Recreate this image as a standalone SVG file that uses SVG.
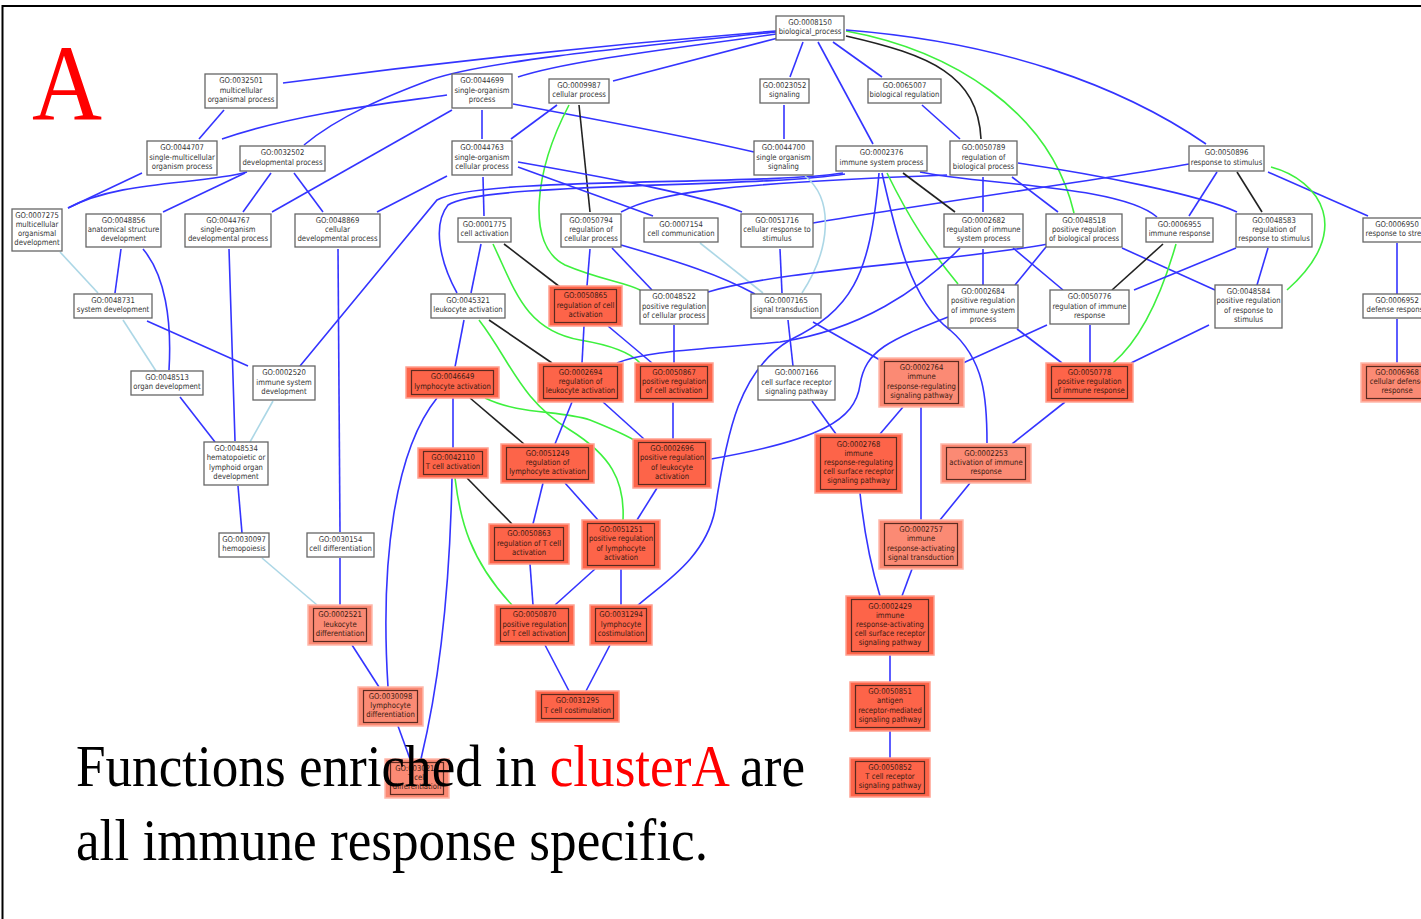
<svg xmlns="http://www.w3.org/2000/svg" width="1421" height="919" viewBox="0 0 1421 919">
<style>
.e{fill:none;stroke-width:1.6}
.b{stroke:#3434ff}
.k{stroke:#222}
.g{stroke:#3ef03e}
.c{stroke:#acd7e6}
.w{fill:#fff;stroke:#666;stroke-width:1.3}
.r{fill:#fd6449;stroke:#ffa090;stroke-width:1.5}
.l{fill:#fb8a74;stroke:#ffb8aa;stroke-width:1.5}
.i{fill:none;stroke:#5a2a20;stroke-width:1.2}
.t{font-family:"DejaVu Sans",sans-serif;font-size:8px;fill:#333;text-anchor:middle}
.tr{fill:#3a1a12}
.big{font-family:"Liberation Serif",serif;font-size:59px;fill:#000}
</style>
<rect width="1421" height="919" fill="#fff"/>
<rect x="2.5" y="6" width="1440" height="930" fill="none" stroke="#000" stroke-width="2"/>

<!-- connectors -->
<g id="edges" class="e">
<path class="b" d="M776,31 C600,45 420,65 283,83"/>
<path class="b" d="M776,34 C680,48 570,60 518,77"/>
<path class="b" d="M776,32 C620,48 480,62 430,80 C390,95 340,115 304,145"/>
<path class="b" d="M778,38 L613,81"/>
<path class="b" d="M803,42 L790,77"/>
<path class="b" d="M818,42 L873,144"/>
<path class="b" d="M833,42 L882,77"/>
<path class="k" d="M846,36 C930,55 978,75 981,139"/>
<path class="g" d="M846,31 C950,50 1050,110 1074,213"/>
<path class="b" d="M846,30 C1000,42 1120,85 1206,144"/>
<path class="b" d="M224,110 L199,139"/>
<path class="b" d="M447,95 C400,102 300,112 222,139"/>
<path class="b" d="M452,110 L272,212"/>
<path class="b" d="M482,110 L482,139"/>
<path class="b" d="M513,104 C600,120 680,135 754,152"/>
<path class="b" d="M557,105 L511,139"/>
<path class="k" d="M579,105 L590,212"/>
<path class="g" d="M569,105 C535,170 525,245 565,265 C600,280 625,282 640,290"/>
<path class="b" d="M784,105 L784,139"/>
<path class="b" d="M922,105 L960,139"/>
<path class="b" d="M142,173 L68,208"/>
<path class="b" d="M247,172 C200,185 120,180 68,208"/>
<path class="b" d="M245,173 L163,212"/>
<path class="b" d="M271,173 L243,212"/>
<path class="b" d="M294,173 L323,212"/>
<path class="b" d="M483,177 L484,216"/>
<path class="b" d="M447,176 L377,212"/>
<path class="b" d="M518,167 L653,216"/>
<path class="b" d="M518,162 C620,180 700,195 742,212"/>
<path class="b" d="M621,212 C660,192 720,184 947,175"/>
<path class="b" d="M843,173 C760,186 480,176 437,200 L300,366"/>
<path class="b" d="M845,174 C760,188 480,182 448,205 C432,225 440,262 457,293"/>
<path class="b" d="M1189,164 C1100,180 950,200 813,223"/>
<path class="k" d="M903,173 L955,212"/>
<path class="b" d="M920,172 C980,185 1120,185 1157,217"/>
<path class="g" d="M887,173 C910,220 930,250 958,284"/>
<path class="b" d="M882,173 C895,230 910,300 950,330 C985,360 987,400 987,443"/>
<path class="b" d="M879,173 C870,280 850,310 790,340 C740,370 727,430 715,510 C705,560 660,585 637,606"/>
<path class="b" d="M983,177 L983,212"/>
<path class="b" d="M1018,163 C1100,175 1200,195 1237,212"/>
<path class="b" d="M1012,177 L1058,212"/>
<path class="b" d="M1217,172 L1189,216"/>
<path class="k" d="M1237,172 L1262,212"/>
<path class="b" d="M1268,172 L1368,216"/>
<path class="g" d="M1271,167 C1320,180 1355,230 1287,290"/>
<path class="c" d="M60,252 L98,293"/>
<path class="b" d="M121,249 L115,293"/>
<path class="b" d="M143,249 C165,275 172,320 169,370"/>
<path class="b" d="M229,249 L235,441"/>
<path class="b" d="M338,249 L340,532"/>
<path class="b" d="M481,244 L471,293"/>
<path class="k" d="M504,244 L560,287"/>
<path class="g" d="M493,244 C515,290 525,330 580,340 C610,345 630,352 640,363"/>
<path class="b" d="M590,249 L587,286"/>
<path class="b" d="M612,248 L652,290"/>
<path class="b" d="M621,245 C680,262 720,275 755,294"/>
<path class="c" d="M700,243 L763,293"/>
<path class="c" d="M805,176 C835,200 830,250 802,293"/>
<path class="b" d="M780,249 L782,293"/>
<path class="b" d="M960,248 C920,290 860,330 780,342 C700,350 650,350 617,363"/>
<path class="b" d="M983,249 L983,285"/>
<path class="b" d="M1013,248 L1063,290"/>
<path class="b" d="M1048,244 C950,262 780,270 708,292"/>
<path class="b" d="M1122,248 L1215,290"/>
<path class="b" d="M1046,247 L1015,285"/>
<path class="k" d="M1163,244 L1112,290"/>
<path class="g" d="M1176,244 C1160,300 1140,340 1113,363"/>
<path class="b" d="M1236,248 L1134,290"/>
<path class="b" d="M1268,248 L1257,285"/>
<path class="b" d="M1397,243 L1397,294"/>
<path class="c" d="M123,320 L156,371"/>
<path class="b" d="M147,321 L248,366"/>
<path class="b" d="M464,320 L455,367"/>
<path class="k" d="M489,320 L552,363"/>
<path class="g" d="M479,320 C510,360 520,400 570,430 C610,455 625,480 623,520"/>
<path class="b" d="M584,326 L582,363"/>
<path class="b" d="M608,326 L652,363"/>
<path class="b" d="M674,325 L674,363"/>
<path class="b" d="M813,322 L880,360"/>
<path class="b" d="M788,320 L793,366"/>
<path class="b" d="M948,317 C890,340 865,350 860,385 C855,420 820,440 711,459"/>
<path class="b" d="M1017,329 L1062,363"/>
<path class="b" d="M1090,325 L1090,363"/>
<path class="b" d="M1047,325 L963,363"/>
<path class="b" d="M1209,325 L1131,363"/>
<path class="b" d="M1397,319 L1397,363"/>
<path class="b" d="M180,397 L215,442"/>
<path class="c" d="M273,401 L250,442"/>
<path class="b" d="M437,398 C395,450 380,560 388,687"/>
<path class="b" d="M453,398 L453,448"/>
<path class="k" d="M470,398 L524,444"/>
<path class="g" d="M485,398 C520,415 560,410 590,420 C610,428 620,432 634,440"/>
<path class="b" d="M572,402 L555,444"/>
<path class="b" d="M603,402 L644,439"/>
<path class="b" d="M673,402 L673,439"/>
<path class="b" d="M903,407 L880,434"/>
<path class="b" d="M921,407 L921,520"/>
<path class="b" d="M812,401 L836,434"/>
<path class="b" d="M1065,402 L1012,444"/>
<path class="b" d="M238,486 L242,533"/>
<path class="b" d="M452,478 C450,580 440,680 421,759"/>
<path class="k" d="M467,478 L512,524"/>
<path class="g" d="M455,478 C460,520 470,560 512,605"/>
<path class="b" d="M543,483 L533,524"/>
<path class="b" d="M565,483 L598,520"/>
<path class="b" d="M657,488 L637,520"/>
<path class="b" d="M860,493 C865,540 872,570 880,596"/>
<path class="b" d="M970,483 L940,520"/>
<path class="c" d="M262,558 L317,605"/>
<path class="b" d="M340,558 L340,605"/>
<path class="b" d="M530,564 L533,605"/>
<path class="b" d="M595,569 L555,605"/>
<path class="b" d="M621,569 L621,605"/>
<path class="b" d="M912,569 L902,596"/>
<path class="b" d="M352,645 L379,687"/>
<path class="b" d="M545,645 L569,691"/>
<path class="b" d="M610,645 L586,691"/>
<path class="b" d="M890,655 L890,682"/>
<path class="b" d="M398,726 L410,759"/>
<path class="b" d="M890,731 L890,758"/>
</g>

<!-- plain GO term nodes -->
<g id="go0008150"><rect class="w" x="776" y="16" width="68" height="24"/><text class="t" transform="translate(810,28) scale(.86,1)"><tspan x="0" y="-3.05">GO:0008150</tspan><tspan x="0" dy="9.1">biological_process</tspan></text></g>
<g id="go0032501"><rect class="w" x="205" y="74" width="72" height="34"/><text class="t" transform="translate(241,91) scale(.86,1)"><tspan x="0" y="-7.6">GO:0032501</tspan><tspan x="0" dy="9.1">multicellular</tspan><tspan x="0" dy="9.1">organismal process</tspan></text></g>
<g id="go0044699"><rect class="w" x="452" y="74" width="60" height="34"/><text class="t" transform="translate(482,91) scale(.86,1)"><tspan x="0" y="-7.6">GO:0044699</tspan><tspan x="0" dy="9.1">single-organism</tspan><tspan x="0" dy="9.1">process</tspan></text></g>
<g id="go0009987"><rect class="w" x="549" y="79" width="60" height="24"/><text class="t" transform="translate(579,91) scale(.86,1)"><tspan x="0" y="-3.05">GO:0009987</tspan><tspan x="0" dy="9.1">cellular process</tspan></text></g>
<g id="go0023052"><rect class="w" x="760" y="79" width="49" height="24"/><text class="t" transform="translate(784.5,91) scale(.86,1)"><tspan x="0" y="-3.05">GO:0023052</tspan><tspan x="0" dy="9.1">signaling</tspan></text></g>
<g id="go0065007"><rect class="w" x="868" y="79" width="73" height="24"/><text class="t" transform="translate(904.5,91) scale(.86,1)"><tspan x="0" y="-3.05">GO:0065007</tspan><tspan x="0" dy="9.1">biological regulation</tspan></text></g>
<g id="go0044707"><rect class="w" x="147" y="141" width="70" height="34"/><text class="t" transform="translate(182,158) scale(.86,1)"><tspan x="0" y="-7.6">GO:0044707</tspan><tspan x="0" dy="9.1">single-multicellular</tspan><tspan x="0" dy="9.1">organism process</tspan></text></g>
<g id="go0032502"><rect class="w" x="240" y="146" width="85" height="25"/><text class="t" transform="translate(282.5,158.5) scale(.86,1)"><tspan x="0" y="-3.05">GO:0032502</tspan><tspan x="0" dy="9.1">developmental process</tspan></text></g>
<g id="go0044763"><rect class="w" x="452" y="141" width="60" height="34"/><text class="t" transform="translate(482,158) scale(.86,1)"><tspan x="0" y="-7.6">GO:0044763</tspan><tspan x="0" dy="9.1">single-organism</tspan><tspan x="0" dy="9.1">cellular process</tspan></text></g>
<g id="go0044700"><rect class="w" x="754" y="141" width="59" height="34"/><text class="t" transform="translate(783.5,158) scale(.86,1)"><tspan x="0" y="-7.6">GO:0044700</tspan><tspan x="0" dy="9.1">single organism</tspan><tspan x="0" dy="9.1">signaling</tspan></text></g>
<g id="go0002376"><rect class="w" x="836" y="146" width="91" height="25"/><text class="t" transform="translate(881.5,158.5) scale(.86,1)"><tspan x="0" y="-3.05">GO:0002376</tspan><tspan x="0" dy="9.1">immune system process</tspan></text></g>
<g id="go0050789"><rect class="w" x="950" y="141" width="67" height="34"/><text class="t" transform="translate(983.5,158) scale(.86,1)"><tspan x="0" y="-7.6">GO:0050789</tspan><tspan x="0" dy="9.1">regulation of</tspan><tspan x="0" dy="9.1">biological process</tspan></text></g>
<g id="go0050896"><rect class="w" x="1189" y="146" width="75" height="25"/><text class="t" transform="translate(1226.5,158.5) scale(.86,1)"><tspan x="0" y="-3.05">GO:0050896</tspan><tspan x="0" dy="9.1">response to stimulus</tspan></text></g>
<g id="go0007275"><rect class="w" x="12" y="209" width="50" height="42"/><text class="t" transform="translate(37,230) scale(.86,1)"><tspan x="0" y="-12.15">GO:0007275</tspan><tspan x="0" dy="9.1">multicellular</tspan><tspan x="0" dy="9.1">organismal</tspan><tspan x="0" dy="9.1">development</tspan></text></g>
<g id="go0048856"><rect class="w" x="86" y="214" width="75" height="33"/><text class="t" transform="translate(123.5,230.5) scale(.86,1)"><tspan x="0" y="-7.6">GO:0048856</tspan><tspan x="0" dy="9.1">anatomical structure</tspan><tspan x="0" dy="9.1">development</tspan></text></g>
<g id="go0044767"><rect class="w" x="185" y="214" width="86" height="33"/><text class="t" transform="translate(228,230.5) scale(.86,1)"><tspan x="0" y="-7.6">GO:0044767</tspan><tspan x="0" dy="9.1">single-organism</tspan><tspan x="0" dy="9.1">developmental process</tspan></text></g>
<g id="go0048869"><rect class="w" x="295" y="214" width="85" height="33"/><text class="t" transform="translate(337.5,230.5) scale(.86,1)"><tspan x="0" y="-7.6">GO:0048869</tspan><tspan x="0" dy="9.1">cellular</tspan><tspan x="0" dy="9.1">developmental process</tspan></text></g>
<g id="go0001775"><rect class="w" x="458" y="218" width="53" height="24"/><text class="t" transform="translate(484.5,230) scale(.86,1)"><tspan x="0" y="-3.05">GO:0001775</tspan><tspan x="0" dy="9.1">cell activation</tspan></text></g>
<g id="go0050794"><rect class="w" x="561" y="214" width="60" height="33"/><text class="t" transform="translate(591,230.5) scale(.86,1)"><tspan x="0" y="-7.6">GO:0050794</tspan><tspan x="0" dy="9.1">regulation of</tspan><tspan x="0" dy="9.1">cellular process</tspan></text></g>
<g id="go0007154"><rect class="w" x="644" y="218" width="74" height="24"/><text class="t" transform="translate(681,230) scale(.86,1)"><tspan x="0" y="-3.05">GO:0007154</tspan><tspan x="0" dy="9.1">cell communication</tspan></text></g>
<g id="go0051716"><rect class="w" x="741" y="214" width="72" height="33"/><text class="t" transform="translate(777,230.5) scale(.86,1)"><tspan x="0" y="-7.6">GO:0051716</tspan><tspan x="0" dy="9.1">cellular response to</tspan><tspan x="0" dy="9.1">stimulus</tspan></text></g>
<g id="go0002682"><rect class="w" x="944" y="214" width="79" height="33"/><text class="t" transform="translate(983.5,230.5) scale(.86,1)"><tspan x="0" y="-7.6">GO:0002682</tspan><tspan x="0" dy="9.1">regulation of immune</tspan><tspan x="0" dy="9.1">system process</tspan></text></g>
<g id="go0048518"><rect class="w" x="1046" y="214" width="76" height="33"/><text class="t" transform="translate(1084,230.5) scale(.86,1)"><tspan x="0" y="-7.6">GO:0048518</tspan><tspan x="0" dy="9.1">positive regulation</tspan><tspan x="0" dy="9.1">of biological process</tspan></text></g>
<g id="go0006955"><rect class="w" x="1146" y="218" width="67" height="24"/><text class="t" transform="translate(1179.5,230) scale(.86,1)"><tspan x="0" y="-3.05">GO:0006955</tspan><tspan x="0" dy="9.1">immune response</tspan></text></g>
<g id="go0048583"><rect class="w" x="1236" y="214" width="76" height="33"/><text class="t" transform="translate(1274,230.5) scale(.86,1)"><tspan x="0" y="-7.6">GO:0048583</tspan><tspan x="0" dy="9.1">regulation of</tspan><tspan x="0" dy="9.1">response to stimulus</tspan></text></g>
<g id="go0006950"><rect class="w" x="1363" y="218" width="68" height="24"/><text class="t" transform="translate(1397,230) scale(.86,1)"><tspan x="0" y="-3.05">GO:0006950</tspan><tspan x="0" dy="9.1">response to stress</tspan></text></g>
<g id="go0048731"><rect class="w" x="74" y="294" width="78" height="24"/><text class="t" transform="translate(113,306) scale(.86,1)"><tspan x="0" y="-3.05">GO:0048731</tspan><tspan x="0" dy="9.1">system development</tspan></text></g>
<g id="go0045321"><rect class="w" x="431" y="294" width="74" height="24"/><text class="t" transform="translate(468,306) scale(.86,1)"><tspan x="0" y="-3.05">GO:0045321</tspan><tspan x="0" dy="9.1">leukocyte activation</tspan></text></g>
<g id="go0048522"><rect class="w" x="640" y="290" width="68" height="34"/><text class="t" transform="translate(674,307) scale(.86,1)"><tspan x="0" y="-7.6">GO:0048522</tspan><tspan x="0" dy="9.1">positive regulation</tspan><tspan x="0" dy="9.1">of cellular process</tspan></text></g>
<g id="go0007165"><rect class="w" x="751" y="294" width="70" height="24"/><text class="t" transform="translate(786,306) scale(.86,1)"><tspan x="0" y="-3.05">GO:0007165</tspan><tspan x="0" dy="9.1">signal transduction</tspan></text></g>
<g id="go0002684"><rect class="w" x="948" y="285" width="70" height="43"/><text class="t" transform="translate(983,306.5) scale(.86,1)"><tspan x="0" y="-12.15">GO:0002684</tspan><tspan x="0" dy="9.1">positive regulation</tspan><tspan x="0" dy="9.1">of immune system</tspan><tspan x="0" dy="9.1">process</tspan></text></g>
<g id="go0050776"><rect class="w" x="1050" y="290" width="79" height="34"/><text class="t" transform="translate(1089.5,307) scale(.86,1)"><tspan x="0" y="-7.6">GO:0050776</tspan><tspan x="0" dy="9.1">regulation of immune</tspan><tspan x="0" dy="9.1">response</tspan></text></g>
<g id="go0048584"><rect class="w" x="1215" y="285" width="67" height="43"/><text class="t" transform="translate(1248.5,306.5) scale(.86,1)"><tspan x="0" y="-12.15">GO:0048584</tspan><tspan x="0" dy="9.1">positive regulation</tspan><tspan x="0" dy="9.1">of response to</tspan><tspan x="0" dy="9.1">stimulus</tspan></text></g>
<g id="go0006952"><rect class="w" x="1363" y="294" width="68" height="24"/><text class="t" transform="translate(1397,306) scale(.86,1)"><tspan x="0" y="-3.05">GO:0006952</tspan><tspan x="0" dy="9.1">defense response</tspan></text></g>
<g id="go0048513"><rect class="w" x="131" y="371" width="72" height="24"/><text class="t" transform="translate(167,383) scale(.86,1)"><tspan x="0" y="-3.05">GO:0048513</tspan><tspan x="0" dy="9.1">organ development</tspan></text></g>
<g id="go0002520"><rect class="w" x="253" y="366" width="62" height="34"/><text class="t" transform="translate(284,383) scale(.86,1)"><tspan x="0" y="-7.6">GO:0002520</tspan><tspan x="0" dy="9.1">immune system</tspan><tspan x="0" dy="9.1">development</tspan></text></g>
<g id="go0007166"><rect class="w" x="758" y="366" width="77" height="34"/><text class="t" transform="translate(796.5,383) scale(.86,1)"><tspan x="0" y="-7.6">GO:0007166</tspan><tspan x="0" dy="9.1">cell surface receptor</tspan><tspan x="0" dy="9.1">signaling pathway</tspan></text></g>
<g id="go0048534"><rect class="w" x="204" y="442" width="64" height="43"/><text class="t" transform="translate(236,463.5) scale(.86,1)"><tspan x="0" y="-12.15">GO:0048534</tspan><tspan x="0" dy="9.1">hematopoietic or</tspan><tspan x="0" dy="9.1">lymphoid organ</tspan><tspan x="0" dy="9.1">development</tspan></text></g>
<g id="go0030097"><rect class="w" x="219" y="533" width="50" height="24"/><text class="t" transform="translate(244,545) scale(.86,1)"><tspan x="0" y="-3.05">GO:0030097</tspan><tspan x="0" dy="9.1">hemopoiesis</tspan></text></g>
<g id="go0030154"><rect class="w" x="307" y="533" width="67" height="24"/><text class="t" transform="translate(340.5,545) scale(.86,1)"><tspan x="0" y="-3.05">GO:0030154</tspan><tspan x="0" dy="9.1">cell differentiation</tspan></text></g>

<!-- enriched terms, strong -->
<g id="go0050865"><rect class="r" x="549" y="286" width="73" height="40"/><rect class="i" x="554.5" y="289.5" width="62" height="33"/><text class="t tr" transform="translate(585.5,306) scale(.86,1)"><tspan x="0" y="-7.6">GO:0050865</tspan><tspan x="0" dy="9.1">regulation of cell</tspan><tspan x="0" dy="9.1">activation</tspan></text></g>
<g id="go0046649"><rect class="r" x="406" y="367" width="93" height="31"/><rect class="i" x="411.5" y="370.5" width="82" height="24"/><text class="t tr" transform="translate(452.5,382.5) scale(.86,1)"><tspan x="0" y="-3.05">GO:0046649</tspan><tspan x="0" dy="9.1">lymphocyte activation</tspan></text></g>
<g id="go0002694"><rect class="r" x="538" y="363" width="85" height="39"/><rect class="i" x="543.5" y="366.5" width="74" height="32"/><text class="t tr" transform="translate(580.5,382.5) scale(.86,1)"><tspan x="0" y="-7.6">GO:0002694</tspan><tspan x="0" dy="9.1">regulation of</tspan><tspan x="0" dy="9.1">leukocyte activation</tspan></text></g>
<g id="go0050867"><rect class="r" x="635" y="363" width="78" height="39"/><rect class="i" x="640.5" y="366.5" width="67" height="32"/><text class="t tr" transform="translate(674,382.5) scale(.86,1)"><tspan x="0" y="-7.6">GO:0050867</tspan><tspan x="0" dy="9.1">positive regulation</tspan><tspan x="0" dy="9.1">of cell activation</tspan></text></g>
<g id="go0050778"><rect class="r" x="1046" y="363" width="87" height="39"/><rect class="i" x="1051.5" y="366.5" width="76" height="32"/><text class="t tr" transform="translate(1089.5,382.5) scale(.86,1)"><tspan x="0" y="-7.6">GO:0050778</tspan><tspan x="0" dy="9.1">positive regulation</tspan><tspan x="0" dy="9.1">of immune response</tspan></text></g>
<g id="go0042110"><rect class="r" x="418" y="448" width="70" height="30"/><rect class="i" x="423.5" y="451.5" width="59" height="23"/><text class="t tr" transform="translate(453,463) scale(.86,1)"><tspan x="0" y="-3.05">GO:0042110</tspan><tspan x="0" dy="9.1">T cell activation</tspan></text></g>
<g id="go0051249"><rect class="r" x="501" y="444" width="93" height="39"/><rect class="i" x="506.5" y="447.5" width="82" height="32"/><text class="t tr" transform="translate(547.5,463.5) scale(.86,1)"><tspan x="0" y="-7.6">GO:0051249</tspan><tspan x="0" dy="9.1">regulation of</tspan><tspan x="0" dy="9.1">lymphocyte activation</tspan></text></g>
<g id="go0002696"><rect class="r" x="633" y="439" width="78" height="49"/><rect class="i" x="638.5" y="442.5" width="67" height="42"/><text class="t tr" transform="translate(672,463.5) scale(.86,1)"><tspan x="0" y="-12.15">GO:0002696</tspan><tspan x="0" dy="9.1">positive regulation</tspan><tspan x="0" dy="9.1">of leukocyte</tspan><tspan x="0" dy="9.1">activation</tspan></text></g>
<g id="go0002768"><rect class="r" x="815" y="434" width="87" height="59"/><rect class="i" x="820.5" y="437.5" width="76" height="52"/><text class="t tr" transform="translate(858.5,463.5) scale(.86,1)"><tspan x="0" y="-16.7">GO:0002768</tspan><tspan x="0" dy="9.1">immune</tspan><tspan x="0" dy="9.1">response-regulating</tspan><tspan x="0" dy="9.1">cell surface receptor</tspan><tspan x="0" dy="9.1">signaling pathway</tspan></text></g>
<g id="go0050863"><rect class="r" x="489" y="524" width="80" height="40"/><rect class="i" x="494.5" y="527.5" width="69" height="33"/><text class="t tr" transform="translate(529,544) scale(.86,1)"><tspan x="0" y="-7.6">GO:0050863</tspan><tspan x="0" dy="9.1">regulation of T cell</tspan><tspan x="0" dy="9.1">activation</tspan></text></g>
<g id="go0051251"><rect class="r" x="582" y="520" width="78" height="49"/><rect class="i" x="587.5" y="523.5" width="67" height="42"/><text class="t tr" transform="translate(621,544.5) scale(.86,1)"><tspan x="0" y="-12.15">GO:0051251</tspan><tspan x="0" dy="9.1">positive regulation</tspan><tspan x="0" dy="9.1">of lymphocyte</tspan><tspan x="0" dy="9.1">activation</tspan></text></g>
<g id="go0050870"><rect class="r" x="495" y="605" width="79" height="40"/><rect class="i" x="500.5" y="608.5" width="68" height="33"/><text class="t tr" transform="translate(534.5,625) scale(.86,1)"><tspan x="0" y="-7.6">GO:0050870</tspan><tspan x="0" dy="9.1">positive regulation</tspan><tspan x="0" dy="9.1">of T cell activation</tspan></text></g>
<g id="go0031294"><rect class="r" x="590" y="605" width="62" height="40"/><rect class="i" x="595.5" y="608.5" width="51" height="33"/><text class="t tr" transform="translate(621,625) scale(.86,1)"><tspan x="0" y="-7.6">GO:0031294</tspan><tspan x="0" dy="9.1">lymphocyte</tspan><tspan x="0" dy="9.1">costimulation</tspan></text></g>
<g id="go0002429"><rect class="r" x="846" y="596" width="88" height="59"/><rect class="i" x="851.5" y="599.5" width="77" height="52"/><text class="t tr" transform="translate(890,625.5) scale(.86,1)"><tspan x="0" y="-16.7">GO:0002429</tspan><tspan x="0" dy="9.1">immune</tspan><tspan x="0" dy="9.1">response-activating</tspan><tspan x="0" dy="9.1">cell surface receptor</tspan><tspan x="0" dy="9.1">signaling pathway</tspan></text></g>
<g id="go0031295"><rect class="r" x="536" y="691" width="83" height="31"/><rect class="i" x="541.5" y="694.5" width="72" height="24"/><text class="t tr" transform="translate(577.5,706.5) scale(.86,1)"><tspan x="0" y="-3.05">GO:0031295</tspan><tspan x="0" dy="9.1">T cell costimulation</tspan></text></g>
<g id="go0050851"><rect class="r" x="850" y="682" width="80" height="49"/><rect class="i" x="855.5" y="685.5" width="69" height="42"/><text class="t tr" transform="translate(890,706.5) scale(.86,1)"><tspan x="0" y="-12.15">GO:0050851</tspan><tspan x="0" dy="9.1">antigen</tspan><tspan x="0" dy="9.1">receptor-mediated</tspan><tspan x="0" dy="9.1">signaling pathway</tspan></text></g>
<g id="go0050852"><rect class="r" x="850" y="758" width="80" height="39"/><rect class="i" x="855.5" y="761.5" width="69" height="32"/><text class="t tr" transform="translate(890,777.5) scale(.86,1)"><tspan x="0" y="-7.6">GO:0050852</tspan><tspan x="0" dy="9.1">T cell receptor</tspan><tspan x="0" dy="9.1">signaling pathway</tspan></text></g>

<!-- enriched terms, weaker -->
<g id="go0002764"><rect class="l" x="879" y="358" width="85" height="49"/><rect class="i" x="884.5" y="361.5" width="74" height="42"/><text class="t tr" transform="translate(921.5,382.5) scale(.86,1)"><tspan x="0" y="-12.15">GO:0002764</tspan><tspan x="0" dy="9.1">immune</tspan><tspan x="0" dy="9.1">response-regulating</tspan><tspan x="0" dy="9.1">signaling pathway</tspan></text></g>
<g id="go0006968"><rect class="l" x="1361" y="363" width="72" height="39"/><rect class="i" x="1366.5" y="366.5" width="61" height="32"/><text class="t tr" transform="translate(1397,382.5) scale(.86,1)"><tspan x="0" y="-7.6">GO:0006968</tspan><tspan x="0" dy="9.1">cellular defense</tspan><tspan x="0" dy="9.1">response</tspan></text></g>
<g id="go0002253"><rect class="l" x="941" y="444" width="90" height="39"/><rect class="i" x="946.5" y="447.5" width="79" height="32"/><text class="t tr" transform="translate(986,463.5) scale(.86,1)"><tspan x="0" y="-7.6">GO:0002253</tspan><tspan x="0" dy="9.1">activation of immune</tspan><tspan x="0" dy="9.1">response</tspan></text></g>
<g id="go0002757"><rect class="l" x="879" y="520" width="84" height="49"/><rect class="i" x="884.5" y="523.5" width="73" height="42"/><text class="t tr" transform="translate(921,544.5) scale(.86,1)"><tspan x="0" y="-12.15">GO:0002757</tspan><tspan x="0" dy="9.1">immune</tspan><tspan x="0" dy="9.1">response-activating</tspan><tspan x="0" dy="9.1">signal transduction</tspan></text></g>
<g id="go0002521"><rect class="l" x="308" y="605" width="64" height="40"/><rect class="i" x="313.5" y="608.5" width="53" height="33"/><text class="t tr" transform="translate(340,625) scale(.86,1)"><tspan x="0" y="-7.6">GO:0002521</tspan><tspan x="0" dy="9.1">leukocyte</tspan><tspan x="0" dy="9.1">differentiation</tspan></text></g>
<g id="go0030098"><rect class="l" x="358" y="687" width="65" height="39"/><rect class="i" x="363.5" y="690.5" width="54" height="32"/><text class="t tr" transform="translate(390.5,706.5) scale(.86,1)"><tspan x="0" y="-7.6">GO:0030098</tspan><tspan x="0" dy="9.1">lymphocyte</tspan><tspan x="0" dy="9.1">differentiation</tspan></text></g>
<g id="go0030217"><rect class="l" x="385" y="759" width="64" height="39"/><rect class="i" x="390.5" y="762.5" width="53" height="32"/><text class="t tr" transform="translate(417,778.5) scale(.86,1)"><tspan x="0" y="-7.6">GO:0030217</tspan><tspan x="0" dy="9.1">T cell</tspan><tspan x="0" dy="9.1">differentiation</tspan></text></g>

<!-- panel letter and caption -->
<text x="32" y="120" font-family="'Liberation Serif',serif" font-size="109" fill="#ff0000" textLength="70" lengthAdjust="spacingAndGlyphs">A</text>
<text class="big" x="76" y="786" textLength="729" lengthAdjust="spacingAndGlyphs">Functions enriched in <tspan fill="#ff0000">clusterA</tspan> are</text>
<text class="big" x="76" y="860" textLength="632" lengthAdjust="spacingAndGlyphs">all immune response specific.</text>
</svg>
